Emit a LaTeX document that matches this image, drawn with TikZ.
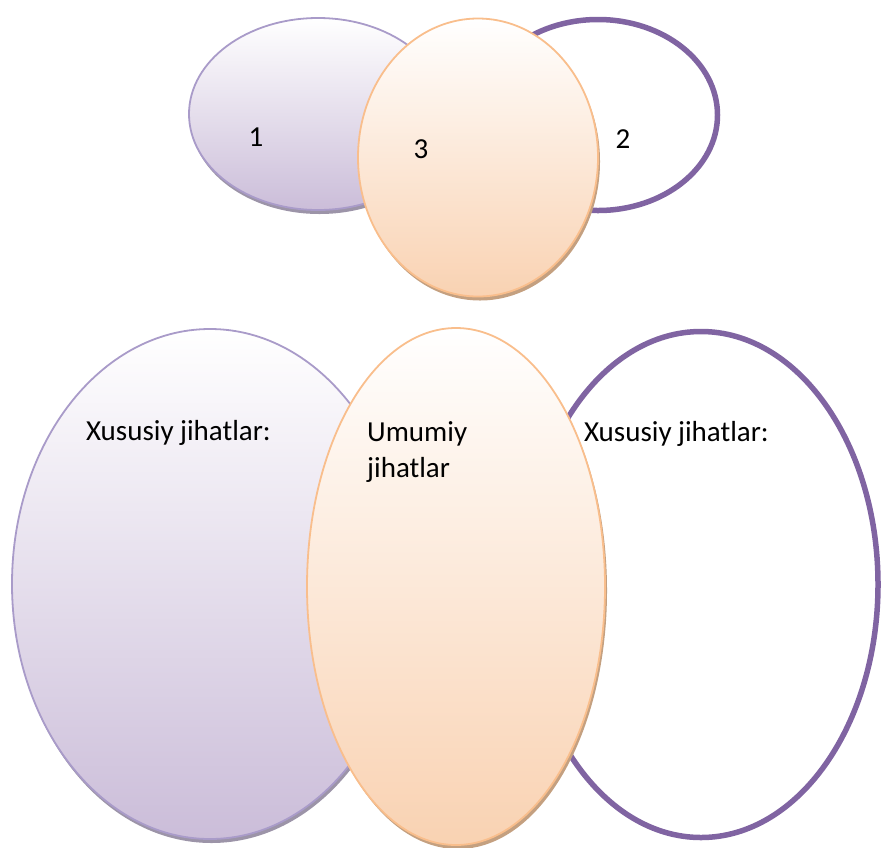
\documentclass[tikz,border=0pt]{standalone}
\usepackage{fontspec}
\setmainfont{Carlito}
\usepackage{tikz}
\usetikzlibrary{shapes.geometric,shadows}
\definecolor{bordolilla}{HTML}{A99BC9}
\definecolor{fondolilla}{HTML}{CBBDD9}
\definecolor{viola}{HTML}{8064A2}
\definecolor{bordoarancio}{HTML}{F9BE8C}
\definecolor{fondoarancio}{HTML}{F9D2B2}
\definecolor{ombralilla}{HTML}{9C94A8}
\definecolor{ombraarancio}{HTML}{C4A080}

\begin{document}
\begin{tikzpicture}[x=1pt, y=-1pt,
    ovale/.style={ellipse, inner sep=0pt},
    lilla/.style={ovale, draw=bordolilla, line width=1.8pt,
        top color=white, bottom color=fondolilla,
        drop shadow={shadow xshift=1.5pt, shadow yshift=-4pt, fill=ombralilla, opacity=1}},
    arancio/.style={ovale, draw=bordoarancio, line width=1.8pt,
        top color=white, bottom color=fondoarancio,
        drop shadow={shadow xshift=2pt, shadow yshift=-4pt, fill=ombraarancio, opacity=1}},
    vuoto/.style={ovale, draw=viola, line width=5.5pt, fill=white},
    testo/.style={font=\fontsize{29}{36}\selectfont, inner sep=0pt}]
    \useasboundingbox (0,0) rectangle (882,847);

    % Schema piccolo in alto
    \node[vuoto, minimum width=239pt, minimum height=191pt] (due) at (598,115) {};
    \node[lilla, minimum width=258pt, minimum height=192pt] (uno) at (318,114) {};
    \node[arancio, minimum width=240pt, minimum height=278pt] (tre) at (478,157.5) {};

    % Numeri
    \node[testo, anchor=base] (n1) at (256,146) {1};
    \node[testo, anchor=base] (n3) at (421,158) {3};
    \node[testo, anchor=base] (n2) at (623,148) {2};

    % Schema grande in basso
    \node[vuoto, minimum width=354pt, minimum height=506pt] (destra) at (701,584.5) {};
    \node[lilla, minimum width=396pt, minimum height=510pt] (sinistra) at (210,584) {};
    \node[arancio, minimum width=298pt, minimum height=517pt] (centro) at (456,586.5) {};

    % Testi
    \node[testo, anchor=base west] (xsin) at (86,440) {Xususiy jihatlar:};
    \node[testo, anchor=base west, align=left] (umumiy) at (367,477) {Umumiy\\jihatlar};
    \node[testo, anchor=base west] (xdes) at (584,441.5) {Xususiy jihatlar:};
\end{tikzpicture}
\end{document}
